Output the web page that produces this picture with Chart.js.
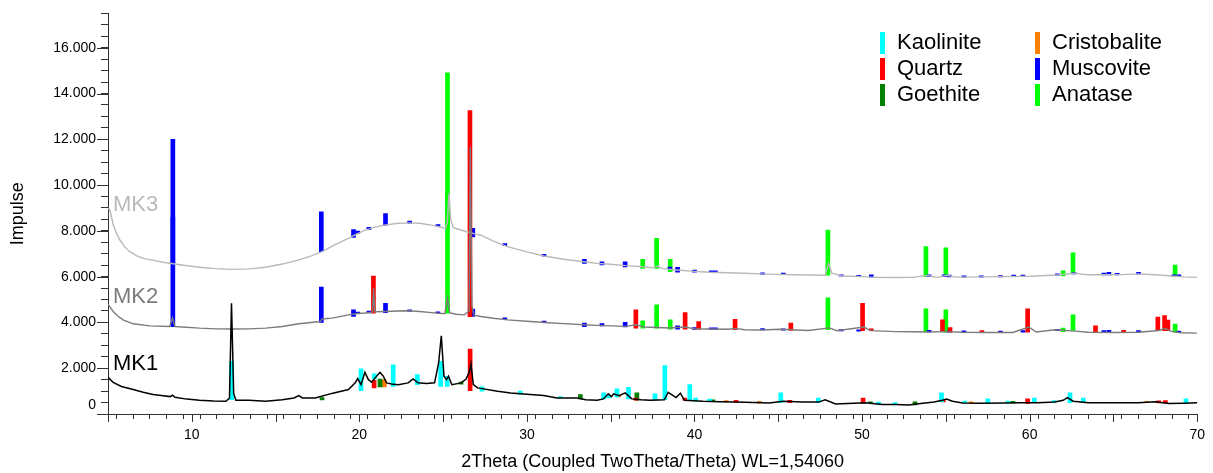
<!DOCTYPE html>
<html>
<head>
<meta charset="utf-8">
<title>XRD patterns MK1–MK3</title>
<script src="https://cdn.jsdelivr.net/npm/chart.js@4.4.1/dist/chart.umd.min.js"></script>
<style>
  html, body { margin: 0; padding: 0; background: #fff; }
  canvas { display: block; }
</style>
</head>
<body>
<canvas id="xrd" width="1213" height="473"></canvas>
<script>
// ---- measured patterns: [2theta, counts] (MK2 and MK3 carry their stacking offset) ----
const mk1Pattern = [
  [5.0,1600],[5.31,1385],[5.8,1200],[6.5,1070],[7.1,950],[7.69,850],[8.3,800],[8.7,760],[8.85,820],[9.0,730],
  [9.7,650],[10.46,600],[11.3,570],[12.04,560],[12.25,700],[12.37,4840],[12.5,900],[12.63,600],[13.42,600],
  [14.41,560],[15.4,620],[16.1,700],[16.39,800],[16.6,700],[17.37,700],[18.36,900],[19.35,1070],[19.75,1360],
  [19.9,1550],[20.1,1280],[20.33,1820],[20.54,1500],[20.74,1385],[20.97,1600],[21.23,1820],[21.43,1650],
  [21.62,1360],[21.92,1310],[22.32,1280],[22.91,1360],[23.21,1530],[23.5,1360],[24.0,1330],[24.49,1360],
  [24.73,2230],[24.89,3420],[25.05,1650],[25.2,1500],[25.32,1650],[25.52,1280],[26.07,1360],[26.37,1530],
  [26.57,1860],[26.66,2200],[26.8,1280],[27.06,1140],[28.25,990],[29.03,920],[30.2,850],[31.0,805],[31.8,700],
  [32.6,700],[33.0,700],[33.5,620],[34.18,600],[34.57,660],[34.85,880],[35.05,760],[35.17,880],[35.5,800],
  [35.86,920],[36.26,660],[36.8,620],[37.35,600],[38.2,620],[38.43,950],[38.9,720],[39.16,910],[39.4,600],
  [40.5,560],[41.5,540],[42.48,520],[43.5,500],[44.46,480],[45.3,560],[46.44,520],[47.4,520],[47.8,620],
  [48.42,440],[49.5,470],[50.2,490],[51.2,420],[52.0,410],[52.77,390],[53.5,460],[54.3,520],[54.8,600],
  [55.04,650],[55.4,560],[56.0,480],[57.0,470],[58.5,480],[59.5,490],[60.5,490],[61.5,520],[62.0,600],
  [62.25,720],[62.6,560],[63.5,490],[65.0,490],[66.5,490],[67.5,530],[68.3,460],[69.2,470],[70.0,490]
];
const mk2Pattern = [
  [5.0,4800],[5.31,4480],[5.6,4270],[5.9,4110],[6.5,3940],[7.49,3850],[8.68,3820],[8.85,4200],[9.0,3820],
  [10.46,3750],[11.5,3720],[12.43,3710],[13.4,3720],[14.41,3750],[15.4,3820],[16.39,3940],[17.1,4000],
  [17.67,4040],[17.77,4150],[18.36,4190],[19.35,4330],[19.9,4390],[20.34,4410],[20.78,4450],[20.85,5490],
  [20.92,4470],[21.53,4480],[22.2,4500],[22.9,4510],[23.6,4480],[24.3,4430],[25.1,4380],[25.26,5070],
  [25.4,4420],[25.8,4360],[26.27,4330],[26.55,4500],[26.62,11650],[26.72,4700],[26.85,4320],[27.26,4260],
  [28.0,4180],[28.84,4110],[30.0,4050],[31.02,4000],[32.2,3950],[33.39,3900],[34.18,3870],[35.0,3850],
  [35.9,3830],[36.5,3900],[37.0,3800],[37.8,3780],[38.5,3760],[39.45,3800],[40.0,3720],[40.9,3710],
  [42.0,3700],[42.45,3740],[43.0,3680],[44.0,3670],[45.1,3700],[45.8,3680],[46.8,3650],[48.05,3760],
  [48.5,3640],[50.1,3800],[50.5,3640],[52.0,3600],[53.0,3590],[54.0,3580],[54.9,3600],[56.0,3570],
  [57.5,3560],[59.0,3560],[59.95,3800],[60.4,3580],[61.5,3680],[62.7,3620],[63.5,3570],[65.0,3560],
  [66.5,3570],[67.7,3650],[68.1,3730],[68.4,3620],[69.0,3550],[70.0,3535]
];
const mk3Pattern = [
  [5.02,9000],[5.12,8900],[5.3,8300],[5.5,7900],[5.71,7600],[6.0,7300],[6.3,7090],[6.7,6920],[7.1,6800],
  [7.8,6700],[8.48,6610],[9.5,6500],[10.46,6410],[11.4,6350],[12.4,6320],[13.4,6340],[14.4,6410],[15.4,6550],
  [16.4,6730],[17.1,6900],[17.77,7090],[18.5,7380],[19.35,7670],[19.9,7880],[20.34,8030],[20.9,8150],
  [21.5,8250],[22.2,8320],[22.9,8350],[23.6,8330],[24.3,8250],[24.8,8170],[25.15,8120],[25.25,8400],
  [25.35,9650],[25.45,8500],[25.6,8150],[26.0,8050],[26.4,7960],[26.9,7870],[27.26,7810],[28.0,7550],
  [28.84,7310],[30.0,7080],[31.02,6900],[32.2,6760],[33.39,6650],[34.18,6580],[34.97,6540],[35.9,6480],
  [36.95,6430],[37.5,6390],[37.8,6450],[38.1,6350],[38.93,6290],[40.0,6230],[40.9,6190],[42.0,6170],
  [42.88,6150],[44.0,6120],[44.86,6100],[46.0,6080],[46.83,6070],[47.8,6060],[48.0,6580],[48.2,6150],
  [48.8,6030],[50.0,6000],[50.79,5970],[52.0,5960],[53.0,5970],[53.9,6050],[54.5,5970],[55.05,6060],
  [55.6,5980],[57.0,5990],[58.5,6000],[60.0,6020],[61.0,6050],[61.6,6070],[62.7,6150],[63.5,6080],
  [64.5,6080],[65.5,6090],[66.5,6120],[67.5,6080],[68.5,6030],[69.2,5990],[70.0,5970]
];

// ---- reference lines per phase: [2theta, from counts, to counts] ----
const kaoliniteLines = [
  [12.37,630,2300],[20.1,1020,1970],[20.9,1530,1750],[22.02,1210,2150],[23.46,1280,1720],[24.85,1210,2300],
  [25.24,1210,1650],[27.32,1000,1190],[29.6,850,1000],[32.0,700,760],[34.58,660,920],[34.87,700,800],
  [35.37,750,1100],[36.06,660,1170],[37.64,600,880],[38.23,630,2110],[39.72,600,1280],[40.07,560,700],
  [40.9,540,650],[45.15,510,920],[47.39,490,700],[50.98,440,520],[51.97,420,500],[54.74,530,920],
  [56.13,480,560],[57.5,460,660],[58.7,480,560],[60.28,510,700],[61.46,510,590],[62.41,490,920],
  [63.2,500,700],[69.33,460,660]
];
const quartzLines = [
  [20.88,1140,1470],[26.61,1020,2840],[36.5,600,700],[39.42,600,700],[42.48,500,600],[45.69,500,600],
  [50.06,460,700],[54.85,530,620],[59.88,460,660],[67.7,480,580],[68.1,480,590],
  [20.84,4400,6030],[26.6,4250,13250],[36.5,3750,4550],[39.44,3710,4430],[40.25,3710,4040],[42.42,3680,4140],
  [45.75,3650,3970],[50.03,3640,4840],[50.55,3640,3720],[54.8,3600,4110],[55.25,3580,3780],[57.15,3570,3640],
  [59.88,3580,4590],[63.93,3580,3850],[65.61,3570,3650],[67.65,3640,4230],[68.05,3640,4300],[68.25,3640,4100]
];
const goethiteLines = [
  [17.77,620,720],[21.23,1180,1530],[26.07,1300,1390],[33.19,660,850],[36.56,600,920],[41.1,540,620],
  [50.5,470,530],[53.16,400,530],[59.0,480,550]
];
const cristobaliteLines = [
  [21.49,1180,1500],[35.47,750,830],[41.89,520,590],[43.87,480,550],[56.5,470,530],[67.0,490,550]
];
const muscoviteLines = [
  [8.87,6600,12000],[17.73,7090,8830],[19.65,7710,8060],[19.9,7890,7990],[20.57,8050,8150],[21.56,8250,8760],
  [23.0,8330,8430],[24.69,8200,8280],[26.77,7740,8110],[28.68,7350,7450],[31.02,6900,6980],[33.43,6580,6760],
  [34.48,6510,6650],[35.86,6430,6650],[38.53,6330,6420],[38.99,6200,6410],[40.0,6200,6290],[41.0,6180,6250],
  [41.25,6180,6250],[44.06,6100,6170],[45.3,6090,6160],[48.75,6020,6080],[49.8,6000,6060],[50.55,5980,6080],
  [54.0,6000,6080],[54.9,6000,6080],[55.2,5990,6070],[56.08,5980,6040],[57.11,5980,6040],[58.26,5990,6050],
  [59.05,6000,6070],[59.6,6000,6070],[61.66,6050,6120],[62.65,6120,6180],[64.43,6080,6160],[64.73,6080,6190],
  [65.22,6080,6140],[66.5,6100,6190],[68.6,6020,6080],[68.9,6020,6080],
  [8.87,3820,8600],[17.73,4000,5540],[19.65,4260,4550],[19.9,4380,4450],[20.57,4420,4500],[21.56,4430,4840],
  [23.0,4480,4550],[24.69,4400,4460],[26.77,4260,4580],[28.68,4120,4200],[31.02,3990,4060],[33.43,3820,3970],
  [34.48,3850,3950],[35.86,3800,4010],[38.99,3710,3850],[40.0,3700,3770],[41.0,3700,3760],[41.25,3700,3760],
  [44.06,3670,3730],[45.3,3660,3720],[48.75,3630,3690],[49.8,3620,3680],[54.0,3580,3650],[55.2,3570,3640],
  [56.08,3570,3630],[58.26,3560,3620],[59.6,3570,3640],[61.66,3640,3700],[64.43,3570,3640],[64.73,3570,3650],
  [66.5,3570,3640],[68.9,3560,3620]
];
const anataseLines = [
  [25.26,8150,14900],[36.91,6360,6760],[37.74,6360,7670],[38.55,6220,6760],[47.96,6070,8030],[53.81,6000,7310],
  [55.0,6000,7260],[62.0,6030,6250],[62.59,6120,7040],[68.68,6030,6510],
  [25.26,4400,9650],[36.91,3750,4070],[37.74,3750,4770],[38.55,3710,4110],[47.96,3680,5080],[53.81,3600,4590],
  [55.0,3580,4550],[62.0,3600,3750],[62.59,3650,4330],[68.68,3580,3930]
];

// ---- axis ticks and names ----
const xLabelTicks = [10, 20, 30, 40, 50, 60, 70];
const yLabelTicks = [2000, 4000, 6000, 8000, 10000, 12000, 14000, 16000];
const patternNames = ['MK1', 'MK2', 'MK3'];
const patternColors = ['#000000', '#7c7c7c', '#b9b9b9'];
const phaseNames = ['Kaolinite', 'Quartz', 'Goethite', 'Cristobalite', 'Muscovite', 'Anatase'];
const phaseColors = ['#00ffff', '#ff0000', '#008000', '#ff8000', '#0000ff', '#00ff00'];
const phaseLines = [kaoliniteLines, quartzLines, goethiteLines, cristobaliteLines, muscoviteLines, anataseLines];
// where each pattern name sits: [2theta, counts at text baseline]
const patternNameAnchors = [[5.3, 1920], [5.3, 4840], [5.3, 8850]];

const SANS = '"Liberation Sans", Arial, Helvetica, sans-serif';
const AXIS = '#333333';

const patterns = [mk1Pattern, mk2Pattern, mk3Pattern];
const datasets = [];

patterns.forEach((p, i) => {
  datasets.push({
    type: 'line',
    label: patternNames[i],
    data: p.map(([t, c]) => ({ x: t, y: c })),
    borderColor: patternColors[i],
    borderWidth: i === 0 ? 1.5 : 1.4,
    pointRadius: 0,
    tension: 0,
    fill: false,
    order: 0
  });
});

phaseLines.forEach((lines, i) => {
  datasets.push({
    type: 'bar',
    label: phaseNames[i],
    data: lines.map(([t, a, b]) => ({ x: t, y: [a, b] })),
    backgroundColor: phaseColors[i],
    borderWidth: 0,
    barThickness: 4,
    grouped: false,
    order: 1
  });
});

// extra decorations: long major ticks, edge "0" label, pattern names, phase key
const decor = {
  id: 'decor',
  afterDraw(chart) {
    const ctx = chart.ctx;
    const xs = chart.scales.x, ys = chart.scales.y;
    const area = chart.chartArea;
    ctx.save();
    ctx.strokeStyle = AXIS;
    ctx.lineWidth = 1;
    ctx.beginPath();
    [0].concat(yLabelTicks).forEach(v => {
      const y = Math.round(ys.getPixelForValue(v)) + 0.5;
      ctx.moveTo(area.left - 11, y);
      ctx.lineTo(area.left, y);
    });
    for (let t = 5; t <= 70; t += 5) {
      const x = Math.round(xs.getPixelForValue(t)) + 0.5;
      ctx.moveTo(x, area.bottom);
      ctx.lineTo(x, area.bottom + 8);
    }
    ctx.stroke();

    // "0" is lifted off the corner so it clears the x axis
    ctx.fillStyle = '#000';
    ctx.font = '14px ' + SANS;
    ctx.textAlign = 'right';
    ctx.textBaseline = 'middle';
    ctx.fillText('0', area.left - 12, ys.getPixelForValue(0) - 9);

    // pattern names
    ctx.font = '22px ' + SANS;
    ctx.textAlign = 'left';
    ctx.textBaseline = 'alphabetic';
    patternNames.forEach((n, i) => {
      const [t, c] = patternNameAnchors[i];
      ctx.fillStyle = patternColors[i];
      ctx.fillText(n, xs.getPixelForValue(t), ys.getPixelForValue(c));
    });

    // phase key, two columns of three
    ctx.font = '22px ' + SANS;
    ctx.textBaseline = 'middle';
    const colX = [880, 1035];
    const rowY = [43, 69, 95];
    phaseNames.forEach((n, i) => {
      const col = Math.floor(i / 3), row = i % 3;
      ctx.fillStyle = phaseColors[i];
      ctx.fillRect(colX[col], rowY[row] - 11, 5, 22);
      ctx.fillStyle = '#000';
      ctx.fillText(n, colX[col] + 17, rowY[row]);
    });
    ctx.restore();
  }
};

new Chart(document.getElementById('xrd'), {
  type: 'line',
  data: { datasets },
  plugins: [decor],
  options: {
    responsive: false,
    animation: false,
    devicePixelRatio: 1,
    layout: { padding: { top: 12, right: 9, left: 0, bottom: 0 } },
    plugins: { legend: { display: false }, tooltip: { enabled: false } },
    scales: {
      x: {
        type: 'linear',
        min: 5, max: 70,
        offset: false,
        border: { display: true, color: AXIS, width: 1 },
        grid: { drawOnChartArea: false, drawTicks: true, tickLength: 5, color: AXIS },
        ticks: {
          stepSize: 1, maxTicksLimit: 1000, autoSkip: false, maxRotation: 0, padding: 8,
          color: '#000', font: { family: SANS, size: 14 },
          callback: v => (xLabelTicks.includes(v) ? String(v) : '')
        },
        title: {
          display: true, text: '2Theta (Coupled TwoTheta/Theta) WL=1,54060',
          color: '#000', font: { family: SANS, size: 18 }, padding: 0
        },
        afterFit: s => { s.height = 59; }
      },
      y: {
        type: 'linear',
        min: 0, max: 17500,
        border: { display: true, color: AXIS, width: 1 },
        grid: { drawOnChartArea: false, drawTicks: true, tickLength: 7, color: AXIS },
        ticks: {
          stepSize: 500, maxTicksLimit: 1000, autoSkip: false, padding: 5,
          color: '#000', font: { family: SANS, size: 14 },
          callback: v => (yLabelTicks.includes(v) ? (v / 1000).toFixed(3) : '')
        },
        title: {
          display: true, text: 'Impulse', color: '#000',
          font: { family: SANS, size: 18 }, padding: { top: 7, bottom: 0 }
        },
        afterFit: s => { s.width = 108; }
      }
    }
  }
});
</script>
</body>
</html>
